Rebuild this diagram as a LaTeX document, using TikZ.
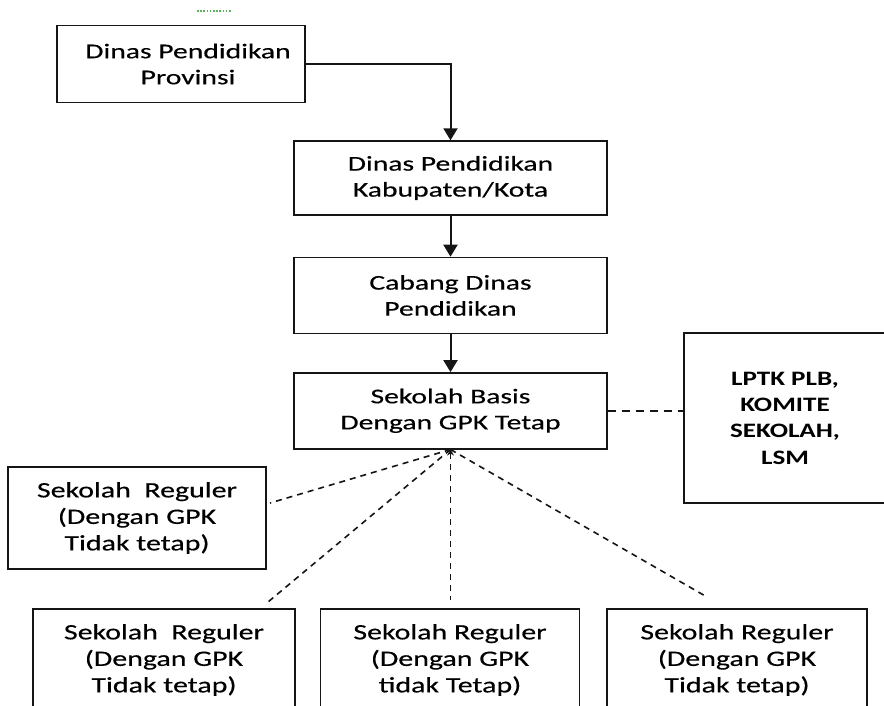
\documentclass[tikz,border=0pt]{standalone}
\usepackage{fontspec}
\setmainfont{Carlito}[FakeStretch=1.32]
\newfontfamily\upperFamily{Carlito}[FakeStretch=1.41, FakeBold=0.35]
\newfontfamily\lowerFamily{Carlito}[FakeStretch=1.36, FakeBold=0.35]
\usetikzlibrary{arrows.meta, positioning, calc}
\definecolor{lineBlack}{HTML}{151515}
\definecolor{checkGreen}{HTML}{5DB35D}
\newcommand{\upperFont}{\upperFamily\fontsize{21}{26}\selectfont}
\newcommand{\lowerFont}{\lowerFamily\fontsize{22}{26.5}\selectfont}
\newcommand{\lsmFont}{\fontsize{20.5}{26.3}\selectfont\bfseries}
\tikzset{
    % Box styles
    orgBox/.style={rectangle, draw=lineBlack, line width=1.4pt, fill=white, align=center, font=\upperFont, inner sep=0pt},
    regBox/.style={orgBox, font=\lowerFont, minimum height=102pt},
    lsmBox/.style={orgBox, font=\lsmFont},
    % Connector styles
    arrowDown/.style={-{Triangle[width=14pt,length=12pt]}, line width=2pt, draw=lineBlack},
    dashSide/.style={dash pattern=on 8pt off 6pt, line width=1.7pt, draw=lineBlack},
    dashLink/.style={dash pattern=on 6pt off 5pt, line width=1.6pt, draw=lineBlack}
}

\begin{document}
\begin{tikzpicture}[x=1pt, y=-1pt]
    \useasboundingbox (0,0) rectangle (884,705);
    % spell-check mark
    \draw[checkGreen, line width=1.5pt, dash pattern=on 1.6pt off 1.6pt] (197,11) -- (232,11);

    % chain of offices
    \node[orgBox, minimum width=248pt, minimum height=77pt] (prov) at (181,64) {\hspace*{14pt}Dinas Pendidikan\\\hspace*{14pt}Provinsi};
    \node[orgBox, minimum width=313pt, minimum height=74pt] (kab) at (450.5,178) {Dinas Pendidikan\\Kabupaten/Kota};
    \node[orgBox, minimum width=313pt, minimum height=76pt, below=41pt of kab] (cab) {Cabang Dinas\\Pendidikan};
    \node[orgBox, minimum width=313pt, minimum height=76pt, below=38pt of cab] (basis) {Sekolah Basis\\Dengan GPK Tetap};
    \node[lsmBox, minimum width=202pt, minimum height=170pt] (lptk) at (785,418) {LPTK PLB,\\KOMITE\\SEKOLAH,\\LSM};

    % regular schools
    \node[regBox, minimum width=258pt] (regA) at (137,518) {Sekolah\ \ Reguler\\(Dengan GPK\\Tidak tetap)};
    \node[regBox, minimum width=262pt] (regB) at (164,660) {Sekolah\ \ Reguler\\(Dengan GPK\\Tidak tetap)};
    \node[regBox, minimum width=259pt] (regC) at (450,660) {Sekolah Reguler\\(Dengan GPK\\tidak Tetap)};
    \node[regBox, minimum width=260pt] (regD) at (737,660) {Sekolah Reguler\\(Dengan GPK\\Tidak tetap)};

    % free ends of the dashed links
    \coordinate (tipA) at (270,503);
    \coordinate (tipB) at (268,602);
    \coordinate (tipC) at (450.5,600);
    \coordinate (tipD) at (707,597);

    \draw[arrowDown] (prov.east) -| (kab.north);
    \draw[arrowDown] (kab) -- (cab);
    \draw[arrowDown] (cab) -- (basis);

    \draw[dashSide] (basis.east) -- (basis.east -| lptk.west);
    \draw[dashLink] (basis.south) -- (tipA);
    \draw[dashLink] (basis.south) -- (tipB);
    \draw[dashLink, {Stealth[length=6pt,width=7pt]}-] (basis.south) -- (tipC);
    \draw[dashLink] (basis.south) -- (tipD);
\end{tikzpicture}
\end{document}
